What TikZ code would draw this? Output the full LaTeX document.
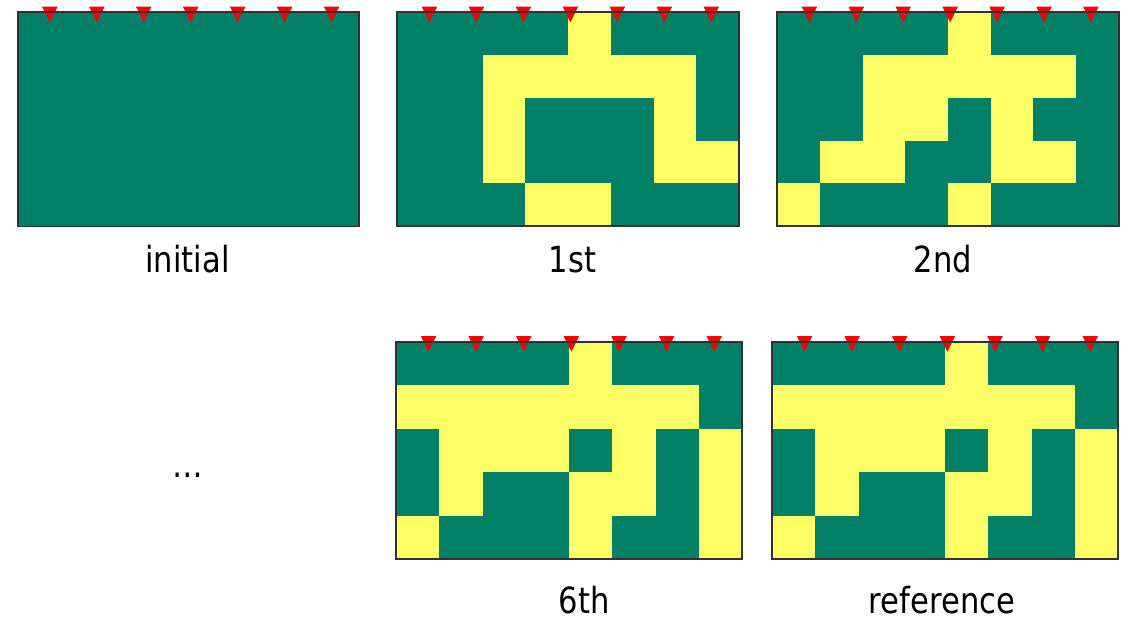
\documentclass[tikz,border=0pt]{standalone}
\usepackage{fontspec}
\setmainfont{DejaVu Sans}[FakeStretch=0.85]
\definecolor{cellgreen}{RGB}{0,128,102}
\definecolor{cellyellow}{RGB}{255,255,102}
\definecolor{panelborder}{RGB}{50,50,50}
\definecolor{marker}{RGB}{255,0,0}
\newcommand{\panelbase}[4]{%
  \fill[cellgreen] (#1,#2) rectangle ++(#3,#4);}
\newcommand{\panelcells}[5]{%
  \pgfmathsetmacro{\cw}{#3/8}\pgfmathsetmacro{\ch}{#4/5}%
  \foreach \c/\r in {#5} {\fill[cellyellow] ({#1+(\c-1)*\cw},{#2+(\r-1)*\ch}) rectangle ++(\cw,\ch);}}
\newcommand{\panelfinish}[4]{%
  \foreach \i in {0,...,6} {\fill[marker] ({#1+#3*(0.094+0.1375*\i)-7.8},{#2-5.7}) -- ++(15.6,0) -- ({#1+#3*(0.094+0.1375*\i)},{#2+10}) -- cycle;}
  \draw[panelborder, line width=1.8pt] (#1,#2) rectangle ++(#3,#4);}
\tikzset{lbl/.style={anchor=base, inner sep=0pt, font=\fontsize{36}{40}\selectfont, text=black}}
\begin{document}
\begin{tikzpicture}[x=1pt, y=-1pt]
\useasboundingbox (0,0) rectangle (1127,620);
% initial
\panelbase{17.7}{12.3}{341.6}{214.2}
\panelfinish{17.7}{12.3}{341.6}{214.2}
% 1st
\panelbase{397.3}{12.3}{341.7}{214}
\panelcells{397.3}{12.3}{341.7}{214}{5/1,3/2,4/2,5/2,6/2,7/2,3/3,7/3,3/4,7/4,8/4,4/5,5/5}
\panelfinish{397.3}{12.3}{341.7}{214}
% 2nd
\panelbase{777.3}{12.3}{341.3}{214}
\panelcells{777.3}{12.3}{341.3}{214}{5/1,3/2,4/2,5/2,6/2,7/2,3/3,4/3,6/3,2/4,3/4,6/4,7/4,1/5,5/5}
\panelfinish{777.3}{12.3}{341.3}{214}
% 6th
\panelbase{396}{341.7}{346.3}{217.6}
\panelcells{396}{341.7}{346.3}{217.6}{5/1,1/2,2/2,3/2,4/2,5/2,6/2,7/2,2/3,3/3,4/3,6/3,8/3,2/4,5/4,6/4,8/4,1/5,5/5,8/5}
\panelfinish{396}{341.7}{346.3}{217.6}
% reference
\panelbase{772}{341.7}{346.3}{217.6}
\panelcells{772}{341.7}{346.3}{217.6}{5/1,1/2,2/2,3/2,4/2,5/2,6/2,7/2,2/3,3/3,4/3,6/3,8/3,2/4,5/4,6/4,8/4,1/5,5/5,8/5}
\panelfinish{772}{341.7}{346.3}{217.6}
% labels
\node[lbl] (linitial) at (187.5,273) {initial};
\node[lbl] (lfirst) at (572.5,273) {1st};
\node[lbl] (lsecond) at (943,273) {2nd};
\node[lbl] (ldots) at (187.5,477) {…};
\node[lbl] (lsixth) at (584,613) {6th};
\node[lbl] (lref) at (942,613) {reference};
\end{tikzpicture}
\end{document}
